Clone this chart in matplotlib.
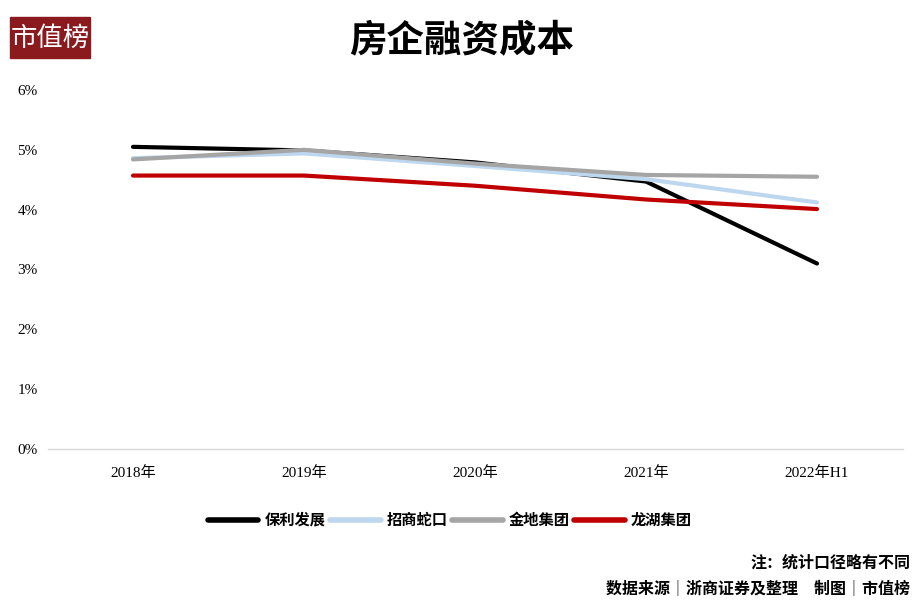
import matplotlib
matplotlib.use("Agg")
import matplotlib.pyplot as plt
from matplotlib.patches import Rectangle

plt.rcParams['font.family'] = ['Noto Sans CJK SC', 'DejaVu Sans']

categories = ['2018年', '2019年', '2020年', '2021年', '2022年H1']
poly = [5.05, 4.99, 4.79, 4.47, 3.10]
cmsk = [4.86, 4.94, 4.73, 4.51, 4.12]
gemdale = [4.84, 5.00, 4.77, 4.58, 4.55]
longfor = [4.57, 4.57, 4.40, 4.17, 4.01]
series_names = ['保利发展', '招商蛇口', '金地集团', '龙湖集团']
colors = ['#000000', '#BDD7EE', '#A5A5A5', '#C00000']
yticks = [0, 1, 2, 3, 4, 5, 6]

fig = plt.figure(figsize=(9.24, 6.12), dpi=100)
ax = fig.add_axes([47.5 / 924, 1 - 449 / 612, 855 / 924, 359 / 612])

x = list(range(len(categories)))
for vals, name, c in zip([poly, cmsk, gemdale, longfor], series_names, colors):
    ax.plot(x, vals, color=c, lw=3.0, label=name, solid_capstyle='round')

ax.set_xlim(-0.5, len(categories) - 0.5)
ax.set_ylim(0, 6)
ax.set_xticks(x)
ax.set_xticklabels(categories, family=['Liberation Serif', 'Noto Sans CJK SC'], fontsize=11)
ax.set_yticks(yticks)
ax.set_yticklabels([f'{v}%' for v in yticks], family=['Liberation Serif'], fontsize=11)
for s in ['top', 'right', 'left']:
    ax.spines[s].set_visible(False)
ax.spines['bottom'].set_color('#D9D9D9')
ax.spines['bottom'].set_linewidth(1.0)
ax.tick_params(axis='both', length=0)
ax.tick_params(axis='x', pad=12)
ax.tick_params(axis='y', pad=7)

leg = fig.legend(loc='center', bbox_to_anchor=(450 / 924, 1 - 520 / 612), ncol=4,
                 frameon=False, handlelength=3.3, handletextpad=0.4, columnspacing=0.3,
                 prop={'family': ['Noto Sans CJK SC'], 'weight': 'bold', 'size': 11})
for h in leg.get_lines():
    h.set_linewidth(4)

fig.text(462 / 924, 1 - 40 / 612, '房企融资成本', ha='center', va='center',
         fontsize=27, fontweight='bold')

# logo
fig.patches.append(Rectangle((10 / 924, 1 - 58 / 612), 80 / 924, 41 / 612,
                             transform=fig.transFigure, color='#8B1A1F', zorder=0))
fig.text(50 / 924, 1 - 38 / 612, '市值榜', ha='center', va='center', color='white',
         fontsize=19)

fig.text(910 / 924, 1 - 563 / 612, '注：统计口径略有不同', ha='right', va='center',
         fontsize=11.5, fontweight='bold')
fig.text(910 / 924, 1 - 589 / 612, '数据来源│浙商证券及整理　制图│市值榜', ha='right',
         va='center', fontsize=11.5, fontweight='bold')

fig.savefig('out.png', dpi=100)
